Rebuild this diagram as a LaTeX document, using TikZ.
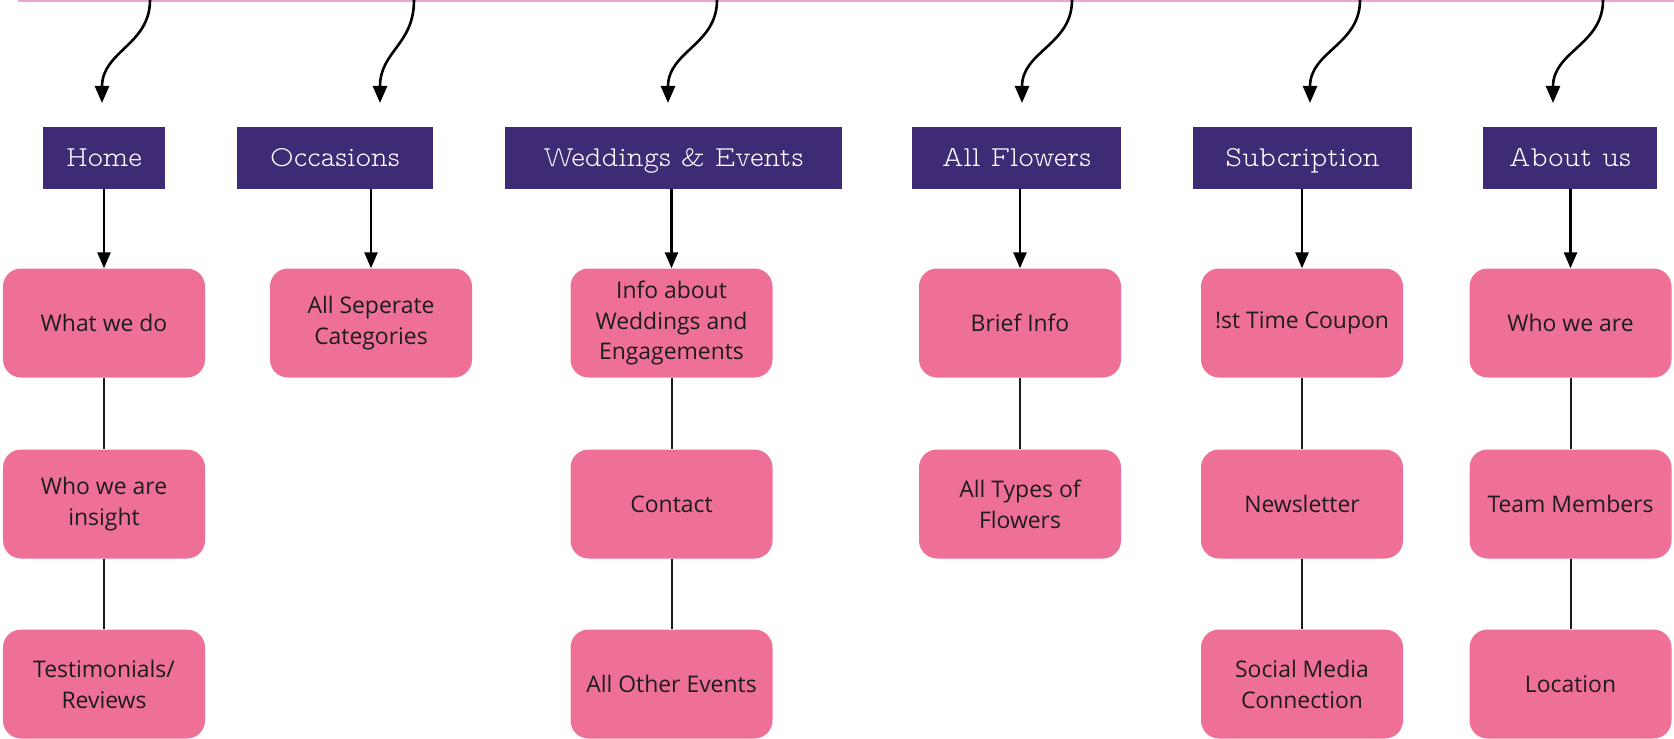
\documentclass[tikz,border=0pt]{standalone}
\usepackage{fontspec}
\newfontfamily\boxfont{Open Sans}
\newfontfamily\hdrfont{Latin Modern Mono Prop Light}
\usetikzlibrary{arrows.meta,calc}
\definecolor{hdrpurple}{HTML}{3F2A76}
\definecolor{boxpink}{HTML}{EF7097}
\definecolor{toppink}{HTML}{E9A8CC}
\definecolor{ink}{HTML}{1C1C1C}
\tikzset{
  hdr/.style={rectangle, fill=hdrpurple, text=white, minimum height=62bp, inner sep=0pt,
    text height=22bp, text depth=4bp, font=\hdrfont\fontsize{29}{32}\selectfont},
  pbox/.style={rectangle, rounded corners=18bp, fill=boxpink, text=ink, minimum width=202bp,
    minimum height=109bp, inner sep=0pt, align=center, font=\boxfont\fontsize{23}{31}\selectfont},
  arr/.style={draw=black, line width=2.6bp, -{Triangle[length=16bp,width=13bp]}},
  link/.style={draw=ink, line width=2bp},
  wave/.style={draw=black, line width=2.6bp, -{Triangle[length=17bp,width=14bp]}},
}
\begin{document}
\begin{tikzpicture}[x=1bp,y=-1bp]
\useasboundingbox (0,0) rectangle (1674,739);
% top line
\coordinate (L0) at (18,0);
\coordinate (L1) at (1680,0);
\draw[toppink, line width=3.4bp] (L0) -- (L1);

% headers
\node[hdr, minimum width=122bp] (h1) at (104,157.5) {Home};
\node[hdr, minimum width=196bp] (h2) at (335,157.5) {Occasions};
\node[hdr, minimum width=337bp] (h3) at (673.5,157.5) {Weddings \& Events};
\node[hdr, minimum width=209bp] (h4) at (1016.5,157.5) {All Flowers};
\node[hdr, minimum width=219bp] (h5) at (1302.5,157.5) {Subcription};
\node[hdr, minimum width=174bp] (h6) at (1570,157.5) {About us};

% pink boxes
\node[pbox] (a1) at (104,323) {What we do};
\node[pbox] (a2) at (104,504) {Who we are\\insight};
\node[pbox] (a3) at (104,684) {Testimonials/\\Reviews};
\node[pbox] (b1) at (371,323) {All Seperate\\Categories};
\node[pbox] (c1) at (671.5,323) {Info about\\Weddings and\\Engagements};
\node[pbox] (c2) at (671.5,504) {Contact};
\node[pbox] (c3) at (671.5,684) {All Other Events};
\node[pbox] (d1) at (1020,323) {Brief Info};
\node[pbox] (d2) at (1020,504) {All Types of\\Flowers};
\node[pbox] (e1) at (1302,323) {!st Time Coupon};
\node[pbox] (e2) at (1302,504) {Newsletter};
\node[pbox] (e3) at (1302,684) {Social Media\\Connection};
\node[pbox] (f1) at (1570.5,323) {Who we are};
\node[pbox] (f2) at (1570.5,504) {Team Members};
\node[pbox] (f3) at (1570.5,684) {Location};

% header to first box arrows
\draw[arr] (a1.north |- h1.south) -- (a1.north);
\draw[arr] (b1.north |- h2.south) -- (b1.north);
\draw[arr] (c1.north |- h3.south) -- (c1.north);
\draw[arr] (d1.north |- h4.south) -- (d1.north);
\draw[arr] (e1.north |- h5.south) -- (e1.north);
\draw[arr] (f1.north |- h6.south) -- (f1.north);

% links between boxes
\draw[link] (a1.south) -- (a2.north);
\draw[link] (a2.south) -- (a3.north);
\draw[link] (c1.south) -- (c2.north);
\draw[link] (c2.south) -- (c3.north);
\draw[link] (d1.south) -- (d2.north);
\draw[link] (e1.south) -- (e2.north);
\draw[link] (e2.south) -- (e3.north);
\draw[link] (f1.south) -- (f2.north);
\draw[link] (f2.south) -- (f3.north);

% wavy arrows from the top line
\foreach \i/\xs/\xe in {1/150/102, 2/414/380, 3/717/668, 4/1072/1022, 5/1360/1310, 6/1603/1553} {
  \coordinate (s\i) at (\xs,0);
  \coordinate (t\i) at (\xe,103);
  \draw[wave] (s\i) .. controls ($(s\i)+(0,45)$) and ($(t\i)+(0,-52)$) .. (t\i);
}
\end{tikzpicture}
\end{document}
